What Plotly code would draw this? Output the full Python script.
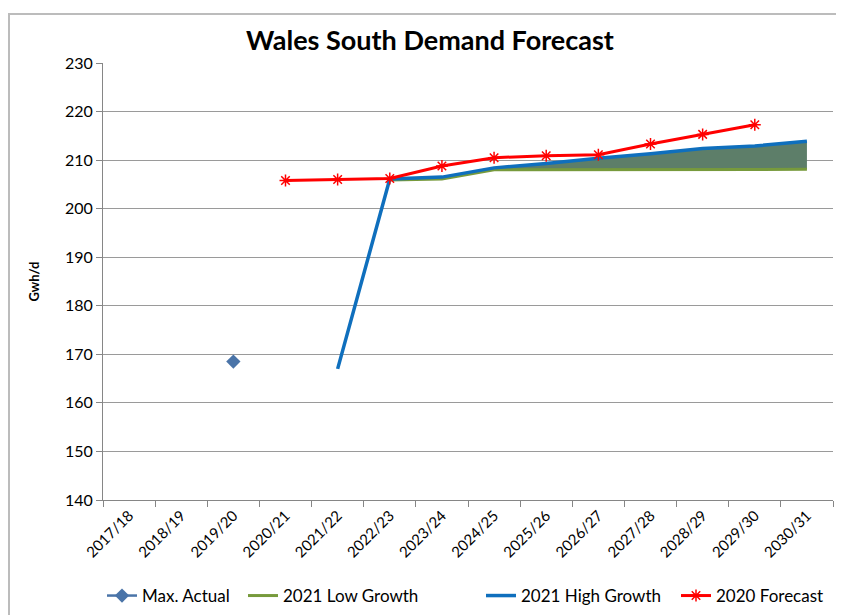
import plotly.graph_objects as go

years = ["2017/18", "2018/19", "2019/20", "2020/21", "2021/22", "2022/23", "2023/24",
         "2024/25", "2025/26", "2026/27", "2027/28", "2028/29", "2029/30", "2030/31"]

max_actual = [None, None, 168.5, None, None, None, None,
              None, None, None, None, None, None, None]
low_growth = [None, None, None, None, None, 205.9, 206.1,
              208.0, 208.0, 208.0, 208.0, 208.0, 208.1, 208.1]
high_growth = [None, None, None, None, 167.0, 206.1, 206.5,
               208.4, 209.3, 210.4, 211.3, 212.4, 212.9, 213.9]
forecast_2020 = [None, None, None, 205.8, 206.0, 206.2, 208.8,
                 210.5, 210.9, 211.1, 213.3, 215.3, 217.3, None]

font = "Lato, 'Open Sans', sans-serif"
W, H = 836, 607  # page body has an 8px margin

fig = go.Figure()

# shaded band between low and high growth (from 2022/23 on)
start = 5
fig.add_trace(go.Scatter(x=years[start:], y=low_growth[start:], mode="lines",
                         line=dict(width=0), showlegend=False, hoverinfo="skip"))
fig.add_trace(go.Scatter(x=years[start:], y=high_growth[start:], mode="lines",
                         line=dict(width=0), fill="tonexty", fillcolor="#5d7e69",
                         showlegend=False, hoverinfo="skip"))

fig.add_trace(go.Scatter(x=years, y=max_actual, mode="lines+markers", name="Max. Actual",
                         line=dict(color="#4a74a8", width=2.5), legend="legend",
                         marker=dict(symbol="diamond", size=11, color="#4a74a8")))
fig.add_trace(go.Scatter(x=years, y=low_growth, mode="lines", name="2021 Low Growth",
                         line=dict(color="#779a3c", width=3), legend="legend2"))
fig.add_trace(go.Scatter(x=years, y=high_growth, mode="lines", name="2021 High Growth",
                         line=dict(color="#0f6fbd", width=3.5), legend="legend3"))
fig.add_trace(go.Scatter(x=years, y=forecast_2020, mode="lines+markers", name="2020 Forecast",
                         line=dict(color="#ff0000", width=3), legend="legend4",
                         marker=dict(symbol="asterisk-open", size=10,
                                     line=dict(color="#ff2020", width=1.5))))

def leg(xpx):
    return dict(orientation="h", x=xpx / W, xanchor="left", xref="container",
                y=19 / H, yanchor="middle", yref="container", font=dict(size=17))

fig.update_layout(
    width=W, height=H,
    margin=dict(l=95, r=11, t=55, b=115),
    plot_bgcolor="white", paper_bgcolor="white",
    font=dict(family=font, color="#000000"),
    title=dict(text="<b>Wales South Demand Forecast</b>", font=dict(size=27, family=font),
               x=422 / W, xanchor="center", xref="container",
               y=1 - 33 / H, yanchor="middle", yref="container"),
    xaxis=dict(type="category", categoryorder="array", categoryarray=years,
               range=[-0.5, 13.5], tickson="boundaries",
               ticks="outside", ticklen=6, tickcolor="#868686",
               showline=True, linecolor="#868686", linewidth=1,
               showgrid=False, tickangle=-45, tickfont=dict(size=15)),
    yaxis=dict(range=[140, 230], dtick=10, ticks="outside", ticklen=6,
               tickcolor="#868686", showline=True, linecolor="#868686",
               showgrid=True, gridcolor="#9a9a9a", gridwidth=1,
               tickfont=dict(size=16), zeroline=False),
    legend=leg(94), legend2=leg(235), legend3=leg(473), legend4=leg(668),
    showlegend=True,
)

fig.add_annotation(text="<b>Gwh/d</b>", xref="paper", yref="paper",
                   x=(33 - 103) / 730, y=0.5, xanchor="center", yanchor="middle",
                   textangle=-90, showarrow=False,
                   font=dict(size=13, family=font))

# outer chart border
fig.add_shape(type="rect", xref="paper", yref="paper",
              x0=(1 - 95) / 730, x1=(860 - 95) / 730,
              y0=-0.4, y1=(492 - 6) / 437,
              line=dict(color="#bcbcbc", width=2), fillcolor="rgba(0,0,0,0)", layer="below")

fig.write_html("out.html")
